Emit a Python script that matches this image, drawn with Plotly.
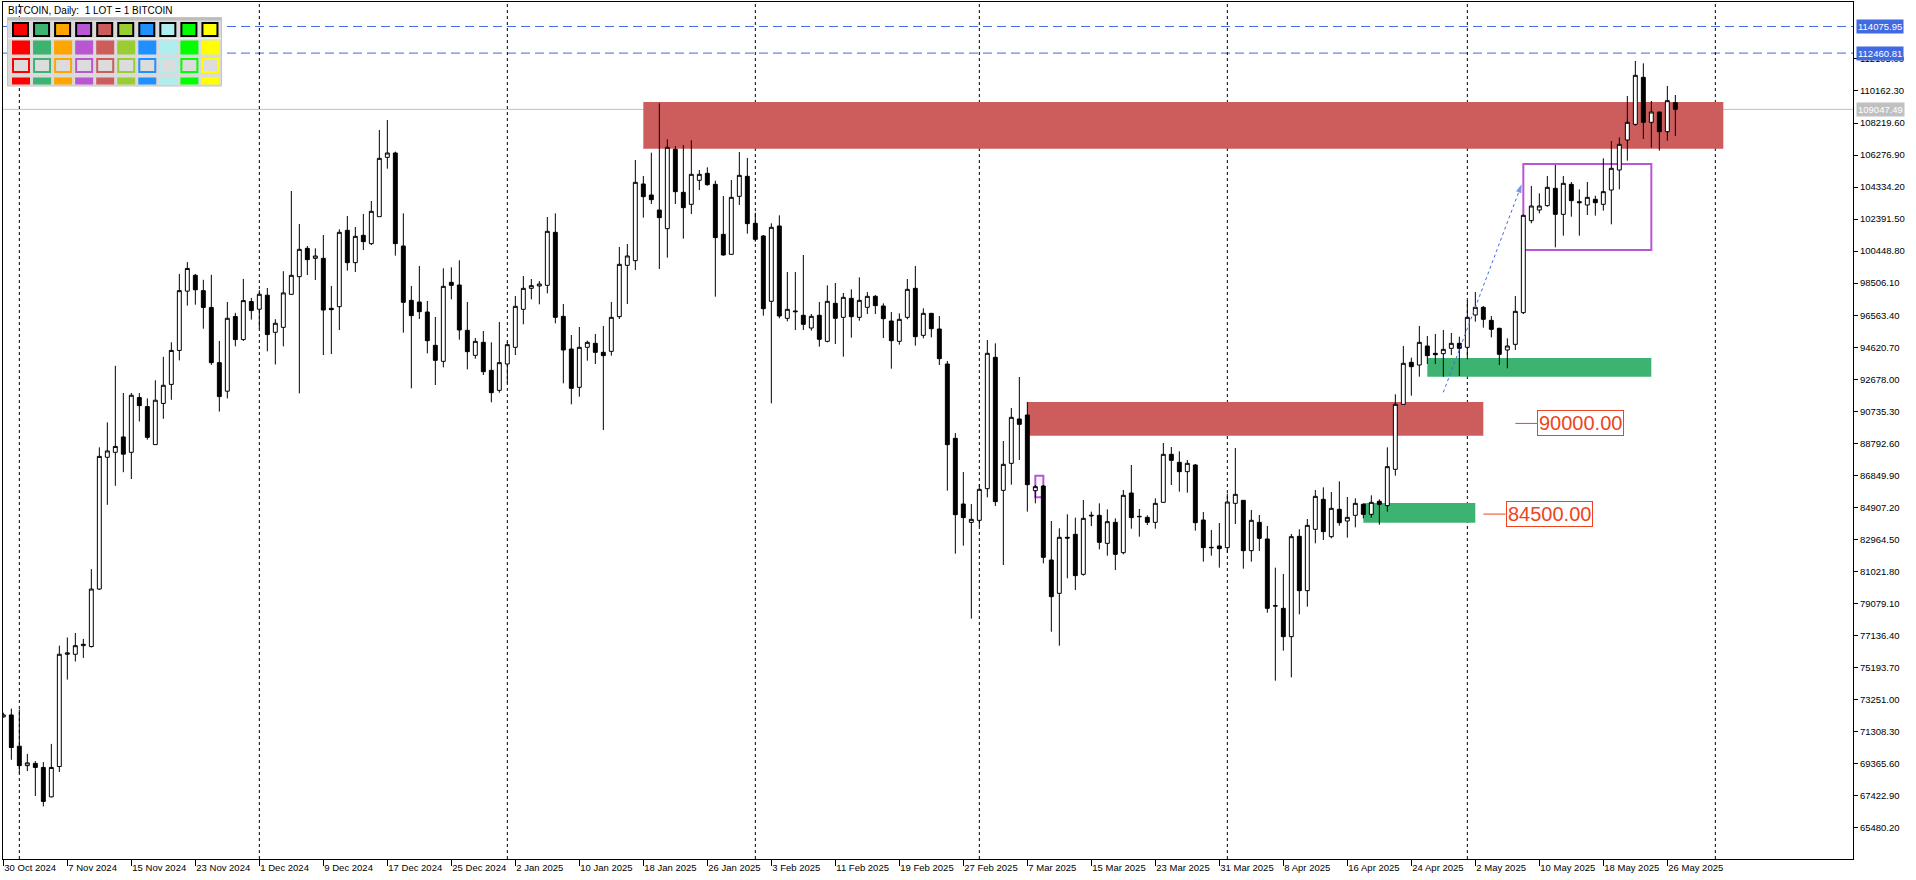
import pandas as pd
import plotly.graph_objects as go

# ---------------- data ----------------
start_date = "2024-10-30"
opens = [72200,72318,70424,69243,69380,69133,67347,69188,75998,75998,76520,76465,79953,87945,88247,89181,88247,91570,91021,88714,
         91214,92367,94427,98024,98986,98052,97036,93685,91955,96487,95085,97393,96926,97777,95525,95827,97829,98901,100619,100013,
         100013,96980,97081,101711,99750,101408,100902,102540,106139,106402,100761,97465,97364,96758,94736,93765,98557,98395,95646,94129,
         94918,93220,92007,93604,94615,96919,98193,98335,98375,101590,96495,94513,92189,94615,94857,94311,94372,96475,99588,99872,
         104522,103854,102944,101812,106624,104016,103288,104744,105169,104501,101469,100255,103773,104987,102136,101368,97405,101975,96374,96819,
         96556,95787,96556,94978,97284,96434,97586,96434,97040,97708,97121,96212,94978,96434,98193,95342,96677,95726,93603,89095,
         85112,83999,84121,86042,94008,85941,87578,90268,90510,85921,86204,81716,79694,83091,83273,80846,84384,84425,82726,84000,
         82160,85779,84364,84303,84000,85213,88125,87639,87073,87478,84142,82484,82565,82464,85152,85334,82282,84000,82989,78946,
         78784,77065,83151,79856,83575,85395,83131,84789,84081,84425,85092,84485,85274,85011,87215,91157,93705,93543,94695,94250,
         94230,94554,94857,94615,96576,97041,96252,95767,94453,94796,96717,102297,102944,103207,104259,102681,104501,103450,103248,103592,
         103288,104157,105371,107190,108140,110991,108262,108889,107696,109455]
highs = [72450,72703,72648,69957,69518,69463,70561,76520,77014,77289,76932,81161,88549,90060,93493,91845,91845,91845,91516,92614,
         94042,94921,99068,99782,99068,98711,99013,95003,97366,96707,98766,97613,98079,98216,96322,99233,104097,102095,100761,100619,
         101428,98335,101772,102580,101913,102701,103490,107797,108403,106483,102742,98335,99547,97424,96454,99406,99466,99891,97364,95180,
         95605,94918,96151,94958,97728,98941,98759,98638,102519,102742,97242,95363,95848,95019,95423,95909,97364,100701,100883,105977,
         105007,106422,109414,107231,106826,106887,107170,105371,105532,104724,103794,104764,106462,106098,102783,101428,102136,102621,99184,99184,
         100215,96637,97364,98375,98517,97910,98132,98860,97971,97789,97283,96758,96677,98759,99548,96980,96697,96515,93786,89419,
         87053,85112,86305,95059,94857,88933,90935,92815,91299,86265,86265,84081,83636,84485,84283,85354,84647,85152,84788,84243,
         85961,87478,84809,84425,85455,88812,88569,88307,87781,87539,84627,83535,83960,85738,88509,85334,84748,84445,83778,81250,
         80866,83292,83575,84202,85961,86123,85840,86487,85537,85455,85152,85638,85395,88549,91764,94695,93988,95908,95302,95423,
         95666,95484,95261,97486,97971,97122,96515,95807,95160,97728,102661,104400,103955,105007,105674,105007,104643,104198,104643,103814,
         106078,107130,107352,109859,111982,111840,109556,108889,110465,109919]
lows = [72150,69600,68776,68914,67402,66771,67320,68859,74460,75559,75778,76410,79898,85061,86215,87039,86627,90115,89016,88714,
        90279,91433,93823,97146,97201,95745,93548,90719,91516,94674,95003,96294,95745,94372,93575,94674,97829,91824,99002,98699,
        94149,94210,95666,99265,99184,100518,100821,102540,105451,100174,95504,92128,96333,94250,92330,93401,97526,95080,93280,93927,
        92936,91278,91865,92431,94149,96010,97526,97222,97890,96070,92431,91157,91622,93806,93604,89601,94109,96333,97243,99305,
        102480,103308,99366,100053,103308,101206,102702,104158,104420,97688,100175,100255,103248,101509,101024,96535,91218,96374,96192,95666,
        95666,95626,94655,94918,94817,94048,95201,96232,96636,96636,95180,93321,94776,96313,94716,95160,95221,93543,85921,82100,
        82585,78157,83737,85516,84990,81412,86285,87781,84647,85152,81513,77368,76518,80603,79896,80766,83778,82362,81978,81109,
        82059,83616,83131,83838,83616,85213,86264,85860,85800,83495,81614,81978,81250,82150,83899,81190,81614,82262,78521,74396,
        76216,74599,78420,78885,82726,82929,83030,83798,83070,83697,84243,84283,83859,84647,86831,91157,91683,92835,93604,93604,
        92835,94150,92876,93887,96171,95807,95221,93543,93341,94453,96636,102136,102742,103146,100680,101388,102540,101388,102641,102601,
        102904,102075,104198,105937,108059,107251,106725,106543,107150,107433]
closes = [72320,70341,69243,69408,69133,67073,69133,75998,76080,76520,76600,79953,88000,88330,88604,88137,91708,91076,89154,91406,
          92312,94427,98052,99398,98107,97036,93685,91625,96377,95085,97448,96844,97833,95388,96074,97915,98981,100558,99932,100154,
          96879,96899,101590,99750,101347,101024,102863,106078,106402,100902,97344,96535,96778,95019,93826,98314,98375,95666,94352,94978,
          93139,91865,93684,94776,97101,98193,98355,98456,101650,96434,94453,92128,94615,94918,94311,94109,96434,99649,100155,104623,
          103753,103571,102479,106746,104056,103086,105108,105108,104481,101266,100215,103713,105047,102116,101165,96960,101894,96515,96920,96778,
          96010,96495,95099,97405,96374,97647,96474,97465,97708,97142,96353,95019,96313,98132,95261,96677,95746,93927,88711,84465,
          84283,84182,86001,94251,85253,87518,90369,89944,86285,86164,81877,79492,83091,83050,80766,84243,84425,82787,84040,82059,
          85637,84283,84344,84000,85152,88125,87761,87073,87579,83980,82464,82464,82403,85233,85698,82282,84122,83030,78784,78926,
          77065,83131,79856,83818,85576,83434,84849,83980,84303,85152,84485,85213,85092,87377,91157,93644,93442,94918,94109,94170,
          94493,94857,94554,96434,97041,96313,95706,94190,94695,96798,102621,103187,103187,104319,102681,104562,103511,103389,103713,103389,
          104056,105472,106927,108261,111112,108262,108889,107696,109576,109047.49]

# price axis ticks (right side) and date axis ticks (bottom)
y_tick_values = [65480.20, 67422.90, 69365.60, 71308.30, 73251.00, 75193.70, 77136.40, 79079.10, 81021.80,
                 82964.50, 84907.20, 86849.90, 88792.60, 90735.30, 92678.00, 94620.70, 96563.40, 98506.10,
                 100448.80, 102391.50, 104334.20, 106276.90, 108219.60, 110162.30, 112105.00]
x_tick_labels = ["30 Oct 2024", "7 Nov 2024", "15 Nov 2024", "23 Nov 2024", "1 Dec 2024", "9 Dec 2024",
                 "17 Dec 2024", "25 Dec 2024", "2 Jan 2025", "10 Jan 2025", "18 Jan 2025", "26 Jan 2025",
                 "3 Feb 2025", "11 Feb 2025", "19 Feb 2025", "27 Feb 2025", "7 Mar 2025", "15 Mar 2025",
                 "23 Mar 2025", "31 Mar 2025", "8 Apr 2025", "16 Apr 2025", "24 Apr 2025", "2 May 2025",
                 "10 May 2025", "18 May 2025", "26 May 2025"]
month_separators = ["2024-11-01", "2024-12-01", "2025-01-01", "2025-02-01", "2025-03-01",
                    "2025-04-01", "2025-05-01", "2025-06-01"]

# zones: (start, end, low, high, colour)
zone_starts = ["2025-01-18", "2025-03-07", "2025-04-26", "2025-04-18"]
zone_ends = ["2025-06-02", "2025-05-03", "2025-05-24", "2025-05-02"]
zone_lows = [106663, 89255, 92833, 83978]
zone_highs = [109495, 91299, 93967, 85173]
zone_colors = ["#CD5C5C", "#CD5C5C", "#3CB371", "#3CB371"]

# outlined boxes
box_starts = ["2025-05-08", "2025-03-08"]
box_ends = ["2025-05-24", "2025-03-09"]
box_lows = [100518, 85519]
box_highs = [105735, 86829]

# horizontal levels
blue_levels = [114075.95, 112460.81]
current_price = 109047.49

# arrow
arrow_x = ["2025-04-28", "2025-05-07 19:00"]
arrow_y = [91887, 104503]

# price labels with leader line
label_prices = [90000.00, 84500.00]
label_line_start = ["2025-05-07", "2025-05-03"]
label_box_left = ["2025-05-09 17:00", "2025-05-05 19:00"]

palette = ["#FF0000", "#3CB371", "#FFA500", "#BA55D3", "#CD5C5C",
           "#9ACD32", "#1E90FF", "#AFEEEE", "#00FF00", "#FFFF00"]

x_range = ["2024-10-29 23:00", "2025-06-18 05:00"]
y_range = [63580, 115560]

# ---------------- figure ----------------
W, H = 1916, 880
PL, PR, PT, PB = 3, 1853, 2, 859
FONT = "Liberation Sans"

dates = pd.date_range(start_date, periods=len(opens), freq="D")

fig = go.Figure()
fig.add_trace(go.Candlestick(
    x=dates, open=opens, high=highs, low=lows, close=closes,
    increasing=dict(line=dict(color="black", width=1), fillcolor="white"),
    decreasing=dict(line=dict(color="black", width=1), fillcolor="black"),
    whiskerwidth=0, hoverinfo="skip", showlegend=False))

fig.add_trace(go.Scatter(
    x=arrow_x, y=arrow_y, mode="lines+markers",
    line=dict(color="#4169E1", width=1, dash="dot"),
    marker=dict(symbol=["circle", "arrow"], size=[0, 9], angleref="previous",
                color="#4169E1", line=dict(width=0)),
    hoverinfo="skip", showlegend=False))

shapes = []
for s, e, lo, hi, c in zip(zone_starts, zone_ends, zone_lows, zone_highs, zone_colors):
    shapes.append(dict(type="rect", xref="x", yref="y", x0=s, x1=e, y0=lo, y1=hi,
                       fillcolor=c, line=dict(width=0), layer="below"))
for s, e, lo, hi in zip(box_starts, box_ends, box_lows, box_highs):
    shapes.append(dict(type="rect", xref="x", yref="y", x0=s, x1=e, y0=lo, y1=hi,
                       fillcolor="rgba(0,0,0,0)", line=dict(color="#BA55D3", width=2), layer="below"))
shapes.append(dict(type="line", xref="paper", yref="y", x0=0, x1=1, y0=current_price, y1=current_price,
                   line=dict(color="#C0C0C0", width=1), layer="below"))
for lv in blue_levels:
    shapes.append(dict(type="line", xref="paper", yref="y", x0=0, x1=1, y0=lv, y1=lv,
                       line=dict(color="#4169E1", width=1, dash="9px,5px"), layer="below"))
for d in month_separators:
    shapes.append(dict(type="line", xref="x", yref="paper", x0=d, x1=d, y0=0, y1=1,
                       line=dict(color="black", width=1, dash="3px,3px"), layer="below"))
for p, ls, bl in zip(label_prices, label_line_start, label_box_left):
    shapes.append(dict(type="line", xref="x", yref="y", x0=ls, x1=bl, y0=p, y1=p,
                       line=dict(color="#EE4422", width=1)))


def px(x):
    return (x - PL) / (PR - PL)


def py(y):
    return (PB - y) / (PB - PT)


def prect(x0, y0, x1, y1, fill, line_color=None, lw=0):
    shapes.append(dict(type="rect", xref="paper", yref="paper", x0=px(x0), x1=px(x1),
                       y0=py(y1), y1=py(y0), fillcolor=fill,
                       line=dict(color=line_color or fill, width=lw), layer="above"))


# colour panel (top-left)
prect(7.5, 17.5, 221.5, 86, "#DADADA", "#C4C4C4", 1)
prect(8, 18, 221, 20.5, "#BDBDBD")
shapes.append(dict(type="line", xref="paper", yref="paper", x0=px(8), x1=px(221), y0=py(38.7), y1=py(38.7),
                   line=dict(color="#F4F4F4", width=1), layer="above"))
for k, c in enumerate(palette):
    x0 = 12 + 21.05 * k
    prect(x0 + 1, 23, x0 + 16, 36, c, "black", 2)
    prect(x0, 40.5, x0 + 18, 54.5, c)
    prect(x0 + 1, 59, x0 + 17, 72, "#DCDCDC", c, 2)
    prect(x0, 77.5, x0 + 18, 84.5, c)

annotations = [
    dict(xref="paper", yref="paper", x=px(6), y=py(3), xanchor="left", yanchor="top",
         text="BITCOIN, Daily:\u00a0 1 LOT = 1 BITCOIN", showarrow=False,
         font=dict(family=FONT, size=10, color="black")),
]
for lv in blue_levels:
    annotations.append(dict(xref="paper", yref="y", x=1, y=lv, xanchor="left", yanchor="middle",
                            xshift=3, text=f"{lv:.2f}", showarrow=False, bgcolor="#4169E1",
                            borderpad=1, font=dict(family=FONT, size=9.5, color="white")))
annotations.append(dict(xref="paper", yref="y", x=1, y=current_price, xanchor="left", yanchor="middle",
                        xshift=3, text=f"{current_price:.2f}", showarrow=False, bgcolor="#C0C0C0",
                        borderpad=1, font=dict(family=FONT, size=9.5, color="white")))
for p, bl in zip(label_prices, label_box_left):
    annotations.append(dict(xref="x", yref="y", x=bl, y=p, xanchor="left", yanchor="middle",
                            text=f"{p:.2f}", showarrow=False, bgcolor="white", bordercolor="#EE4422",
                            borderwidth=1, borderpad=1, font=dict(family=FONT, size=20, color="#EE4422")))

fig.update_layout(
    width=W, height=H,
    margin=dict(l=PL, r=W - PR, t=PT, b=H - PB),
    paper_bgcolor="white", plot_bgcolor="white",
    showlegend=False,
    shapes=shapes, annotations=annotations,
    font=dict(family=FONT, size=9.5, color="black"),
    xaxis=dict(type="date", range=x_range, rangeslider=dict(visible=False),
               tickvals=dates[::8], ticktext=x_tick_labels,
               ticks="outside", ticklen=6, tickcolor="black", ticklabelposition="outside right",
               showline=True, linecolor="black", linewidth=1, mirror=True,
               showgrid=False, zeroline=False, tickfont=dict(family=FONT, size=9.5)),
    yaxis=dict(side="right", range=y_range, tickvals=y_tick_values,
               ticktext=[f"{v:.2f}" for v in y_tick_values],
               ticks="outside", ticklen=4, tickcolor="black",
               showline=True, linecolor="black", linewidth=1, mirror=True,
               showgrid=False, zeroline=False, tickfont=dict(family=FONT, size=9.5)),
)

fig.write_html("out.html", config={"displayModeBar": False},
               post_script="document.body.style.margin='0';document.body.style.overflow='hidden';")
